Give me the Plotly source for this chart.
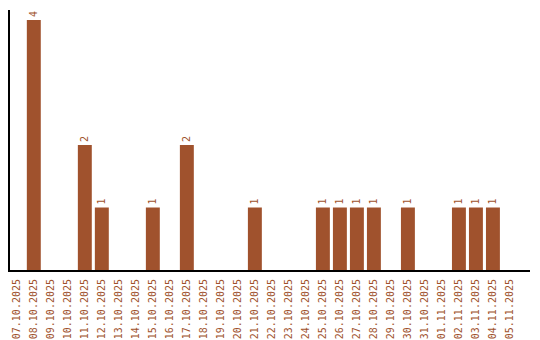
import plotly.graph_objects as go

dates = ["07.10.2025","08.10.2025","09.10.2025","10.10.2025","11.10.2025","12.10.2025",
         "13.10.2025","14.10.2025","15.10.2025","16.10.2025","17.10.2025","18.10.2025",
         "19.10.2025","20.10.2025","21.10.2025","22.10.2025","23.10.2025","24.10.2025",
         "25.10.2025","26.10.2025","27.10.2025","28.10.2025","29.10.2025","30.10.2025",
         "31.10.2025","01.11.2025","02.11.2025","03.11.2025","04.11.2025","05.11.2025"]
counts = [0,4,0,0,2,1,0,0,1,0,2,0,0,0,1,0,0,0,1,1,1,1,0,1,0,0,1,1,1,0]

color = "#A0522D"
font = "DejaVu Sans Mono"

fig = go.Figure(go.Bar(
    x=dates, y=counts,
    marker=dict(color=color, line=dict(width=0)),
    text=[str(c) if c else "" for c in counts],
    textposition="outside", textangle=-90,
    textfont=dict(family=font, size=10, color=color),
    cliponaxis=False,
))
fig.update_layout(
    width=540, height=340,
    margin=dict(l=10, r=10, t=10, b=70),
    paper_bgcolor="white", plot_bgcolor="white",
    bargap=0.18, showlegend=False,
    xaxis=dict(type="category", tickangle=-90, showgrid=False, ticks="",
               automargin=False, range=[-0.4, 30.18], ticklabelstandoff=3,
               tickfont=dict(family=font, size=10, color=color),
               showline=True, linecolor="black", linewidth=2),
    yaxis=dict(range=[0, 4.16], showticklabels=False, showgrid=False, ticks="",
               automargin=False,
               zeroline=False, showline=True, linecolor="black", linewidth=2),
)
fig.write_html("out.html")
